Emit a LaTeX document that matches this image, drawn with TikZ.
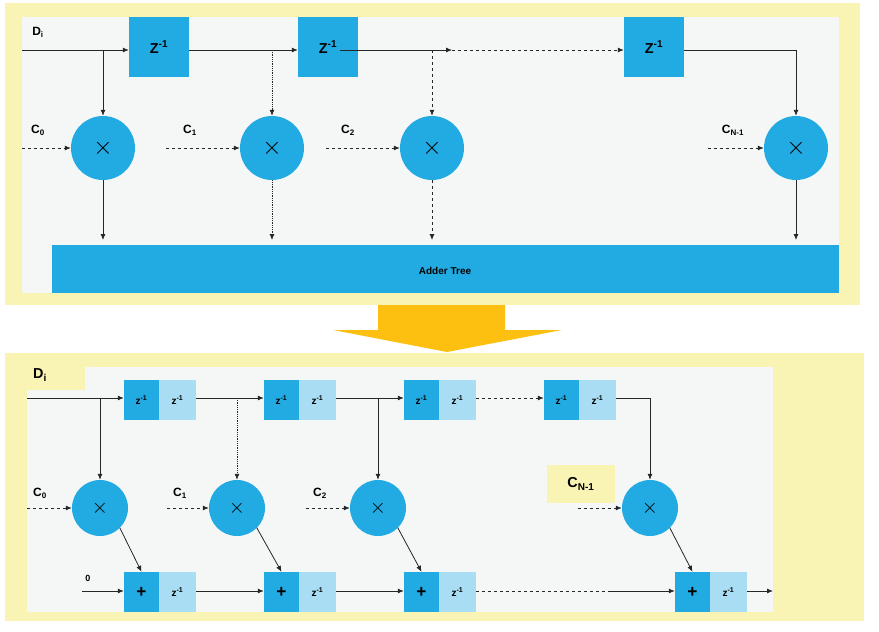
\documentclass[tikz,border=0pt]{standalone}
\usepackage{fontspec}
\setmainfont{Liberation Sans}
\usetikzlibrary{arrows.meta}
\definecolor{blu}{HTML}{22AAE2}
\definecolor{lblu}{HTML}{A9DDF3}
\definecolor{yel}{HTML}{FAF4B4}
\definecolor{org}{HTML}{FDC010}
\definecolor{inbg}{HTML}{F5F7F7}
\begin{document}
\begin{tikzpicture}[x=1pt,y=-1pt,
  ar/.style={-{Latex[length=6pt,width=5pt]},thick,black!85},
  da/.style={ar,dashed},
  zb/.style={fill=blu,minimum width=60pt,minimum height=60pt,inner sep=0,font=\bfseries\Large},
  mul/.style={circle,fill=blu,minimum size=64pt,inner sep=0,font=\bfseries\Huge},
  mul2/.style={circle,fill=blu,minimum size=56pt,inner sep=0,font=\bfseries\huge},
  dz/.style={fill=blu,minimum width=35pt,minimum height=40pt,inner sep=0,font=\bfseries},
  lz/.style={fill=lblu,minimum width=37pt,minimum height=40pt,inner sep=0,font=\bfseries},
  lab/.style={font=\bfseries\large,inner sep=0}]
\useasboundingbox (0,0) rectangle (879,632);
\fill[white] (0,0) rectangle (879,632);
% top panel
\fill[yel] (5,3) rectangle (860,305);
\fill[inbg] (22,17) rectangle (839,293);
\node[fill=blu,minimum width=787pt,minimum height=48pt,inner sep=0,anchor=north west,font=\bfseries] (tree) at (52,245) {};
\node[font=\bfseries] (treet) at (445,271) {Adder Tree};
\node[lab] (di1) at (38,32) {D\textsubscript{i}};
\coordinate (s1) at (22,50);
\node[zb] (z1) at (159,47) {Z\textsuperscript{-1}};
\node[zb] (z2) at (328,47) {Z\textsuperscript{-1}};
\node[zb] (z3) at (654,47) {Z\textsuperscript{-1}};
\node[mul] (m0) at (103,148) {$\times$};
\node[mul] (m1) at (272,148) {$\times$};
\node[mul] (m2) at (432,148) {$\times$};
\node[mul] (m3) at (796,148) {$\times$};
\node[lab] (c0) at (38,130) {C\textsubscript{0}};
\node[lab] (c1) at (190,130) {C\textsubscript{1}};
\node[lab] (c2) at (348,130) {C\textsubscript{2}};
\node[lab] (c3) at (733,130) {C\textsubscript{N-1}};
\coordinate (a0) at (22,148); \coordinate (a1) at (166,148);
\coordinate (a2) at (326,148); \coordinate (a3) at (708,148);
\foreach \i in {0,1,2,3}{\draw[da] (a\i) -- (m\i.west);}
\draw[ar] (s1) -- (z1.west |- s1);
\draw[ar] (103,50) -- (m0.north);
\draw[ar] (z1.east |- s1) -- (z2.west |- s1);
\draw[ar,densely dotted] (272,50) -- (m1.north);
\draw[ar] (340,50) -- (452,50);
\coordinate (dd) at (452,50);
\draw[da] (dd) -- (z3.west |- s1);
\draw[ar,dashed] (432,50) -- (m2.north);
\draw[ar] (z3.east |- s1) -| (m3.north);
\draw[ar] (m0.south) -- (103,240);
\draw[ar,densely dotted] (m1.south) -- (272,240);
\draw[ar,dashed] (m2.south) -- (432,240);
\draw[ar] (m3.south) -- (796,240);
% orange arrow
\fill[org] (378,305) -- (505,305) -- (505,330) -- (562,330) -- (447,352) -- (333,330) -- (378,330) -- cycle;
% bottom panel
\fill[yel] (5,353) rectangle (864,621);
\fill[inbg] (27,367) rectangle (773,612);
\fill[yel] (5,353) rectangle (85,390);
\node[font=\bfseries\Large,inner sep=0] (di2) at (40,375) {D\textsubscript{i}};
\foreach \n/\x in {1/124,2/264,3/404,4/544}{
  \node[dz] (d\n) at (\x+17.5,400) {z\textsuperscript{-1}};
  \node[lz] (l\n) at (\x+53.5,400) {z\textsuperscript{-1}};
}
\foreach \n/\x in {1/124,2/264,3/404,4/675}{
  \node[dz,font=\bfseries\LARGE] (p\n) at (\x+17.5,592) {+};
  \node[lz] (q\n) at (\x+53.5,592) {z\textsuperscript{-1}};
}
\node[mul2] (n0) at (100,508) {$\times$};
\node[mul2] (n1) at (237,508) {$\times$};
\node[mul2] (n2) at (378,508) {$\times$};
\node[mul2] (n3) at (650,508) {$\times$};
\node[lab] (e0) at (40,493) {C\textsubscript{0}};
\node[lab] (e1) at (180,493) {C\textsubscript{1}};
\node[lab] (e2) at (320,493) {C\textsubscript{2}};
\node[fill=yel,minimum width=68pt,minimum height=38pt,inner sep=0,font=\bfseries\Large] (e3) at (581,484) {C\textsubscript{N-1}};
\coordinate (b0) at (27,508); \coordinate (b1) at (167,508);
\coordinate (b2) at (306,508); \coordinate (b3) at (578,508);
\foreach \i in {0,1,2,3}{\draw[da] (b\i) -- (n\i.west);}
\coordinate (t0) at (27,398);
\draw[ar] (t0) -- (d1.west |- t0);
\draw[ar] (100,398) -- (n0.north);
\draw[ar] (l1.east |- t0) -- (d2.west |- t0);
\draw[ar,densely dotted] (237,398) -- (n1.north);
\draw[ar] (l2.east |- t0) -- (d3.west |- t0);
\draw[ar] (378,398) -- (n2.north);
\draw[da] (l3.east |- t0) -- (d4.west |- t0);
\draw[ar] (l4.east |- t0) -| (n3.north);
\foreach \i/\j in {0/1,1/2,2/3,3/4}{\draw[ar] (n\i) ++(-45:28pt) -- (p\j.north);}
\node[font=\bfseries\small,inner sep=0] (zero) at (88,578) {0};
\coordinate (u0) at (82,591);
\draw[ar] (u0) -- (p1.west |- u0);
\draw[ar] (q1.east |- u0) -- (p2.west |- u0);
\draw[ar] (q2.east |- u0) -- (p3.west |- u0);
\draw[thick,dashed,black!85] (q3.east |- u0) -- (610,591);
\draw[ar] (610,591) -- (p4.west |- u0);
\coordinate (u9) at (773,591);
\draw[ar] (q4.east |- u0) -- (u9);
\end{tikzpicture}
\end{document}
